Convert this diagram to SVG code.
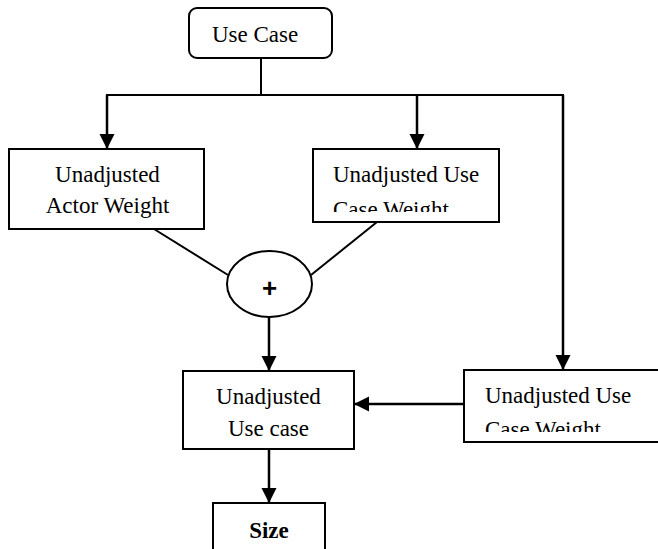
<svg xmlns="http://www.w3.org/2000/svg" width="658" height="549" viewBox="0 0 658 549">
<style>
.box{fill:#fff;stroke:#000;stroke-width:2}
.t{font-family:"Liberation Serif","Times New Roman",serif;font-size:23px;fill:#000}
.c{stroke:#000;stroke-width:2;fill:none}
.a{stroke:#000;stroke-width:2.5;fill:none;marker-end:url(#ah)}
</style>
<defs>
<marker id="ah" markerUnits="userSpaceOnUse" markerWidth="16" markerHeight="16" refX="15" refY="7.5" orient="auto">
<path d="M0,0 L15,7.5 L0,15 Z" fill="#000"/>
</marker>
<clipPath id="cl1"><rect x="313" y="149" width="186" height="63"/></clipPath>
<clipPath id="cl2"><rect x="464" y="370" width="194" height="62"/></clipPath>
</defs>
<rect width="658" height="549" fill="#fff"/>
<g id="connectors">
<line class="c" x1="261" y1="58" x2="261" y2="95"/>
<line class="c" x1="106" y1="95" x2="564" y2="95"/>
<line class="a" x1="107" y1="95" x2="107" y2="149"/>
<line class="a" x1="417" y1="95" x2="417" y2="149"/>
<line class="a" x1="563" y1="95" x2="563" y2="370"/>
<line class="c" x1="154" y1="229" x2="228" y2="275"/>
<line class="c" x1="377" y1="222" x2="311" y2="275"/>
<line class="a" x1="269" y1="317" x2="269" y2="371"/>
<line class="a" x1="464" y1="404" x2="354" y2="404"/>
<line class="a" x1="269" y1="449" x2="269" y2="503"/>
</g>
<g id="usecase">
<rect class="box" x="189" y="8" width="143" height="50" rx="8"/>
<text class="t" x="212" y="42">Use Case</text>
</g>
<g id="actorweight">
<rect class="box" x="9" y="149" width="195" height="80"/>
<text class="t" x="107.5" y="182" text-anchor="middle">Unadjusted</text>
<text class="t" x="107.5" y="213" text-anchor="middle">Actor Weight</text>
</g>
<g id="usecaseweight1">
<rect class="box" x="313" y="149" width="186" height="73"/>
<g clip-path="url(#cl1)">
<text class="t" x="333" y="182">Unadjusted Use</text>
<text class="t" x="333" y="217">Case Weight</text>
</g>
</g>
<g id="plus">
<ellipse class="box" cx="269.5" cy="284" rx="42.5" ry="33"/>
<text x="269.5" y="297" text-anchor="middle" style="font-family:'Liberation Sans',Arial,sans-serif;font-size:26px;font-weight:bold">+</text>
</g>
<g id="unadjustedusecase">
<rect class="box" x="183" y="371" width="171" height="78"/>
<text class="t" x="268.5" y="404" text-anchor="middle">Unadjusted</text>
<text class="t" x="268.5" y="436" text-anchor="middle">Use case</text>
</g>
<g id="usecaseweight2">
<rect class="box" x="464" y="370" width="204" height="72"/>
<g clip-path="url(#cl2)">
<text class="t" x="485" y="403">Unadjusted Use</text>
<text class="t" x="485" y="437">Case Weight</text>
</g>
</g>
<g id="size">
<rect class="box" x="213" y="503" width="112" height="60"/>
<text class="t" x="269" y="538" text-anchor="middle" font-weight="bold">Size</text>
</g>
</svg>
